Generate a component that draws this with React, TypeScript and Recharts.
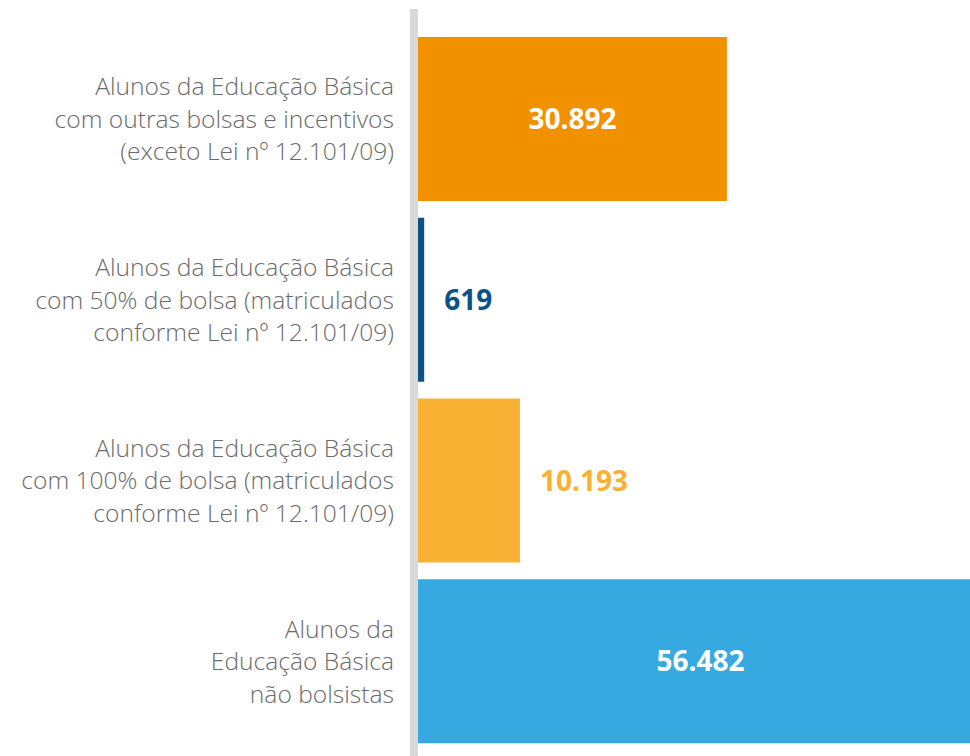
import React from "react";
import { BarChart, Bar, XAxis, YAxis, Cell, LabelList } from "recharts";

const categories = [
  "Alunos da Educação Básica com outras bolsas e incentivos (exceto Lei nº 12.101/09)",
  "Alunos da Educação Básica com 50% de bolsa (matriculados conforme Lei nº 12.101/09)",
  "Alunos da Educação Básica com 100% de bolsa (matriculados conforme Lei nº 12.101/09)",
  "Alunos da Educação Básica não bolsistas",
];

const categoryLines = [
  ["Alunos da Educação Básica", "com outras bolsas e incentivos", "(exceto Lei nº 12.101/09)"],
  ["Alunos da Educação Básica", "com 50% de bolsa (matriculados", "conforme Lei nº 12.101/09)"],
  ["Alunos da Educação Básica", "com 100% de bolsa (matriculados", "conforme Lei nº 12.101/09)"],
  ["Alunos da", "Educação Básica", "não bolsistas"],
];

const values = [30892, 619, 10193, 56482];
const valueLabels = ["30.892", "619", "10.193", "56.482"];
const barColors = ["#f29100", "#0b5288", "#f8b133", "#36a9e0"];
const labelInside = [true, false, false, true];

const data = categories.map((name, i) => ({ name, value: values[i], idx: i }));

const LABEL_FONT = "'Open Sans', 'Noto Sans', sans-serif";

const CategoryTick = (props: any) => {
  const { y, payload } = props;
  const idx = categories.indexOf(payload.value);
  const lines = categoryLines[idx] || [];
  const lh = 32.5;
  return (
    <text
      x={394}
      y={y}
      textAnchor="end"
      fill="#6b6b6b"
      fontFamily={LABEL_FONT}
      fontWeight={300}
      fontSize={24.6}
    >
      {lines.map((l, i) => (
        <tspan key={i} x={394} y={y + (i - (lines.length - 1) / 2) * lh + 8.5}>
          {l}
        </tspan>
      ))}
    </text>
  );
};

const ValueLabel = (props: any) => {
  const { x, y, width, height, index } = props;
  const i = index as number;
  const inside = labelInside[i];
  const cx = inside ? x + width / 2 : x + width + 20;
  return (
    <text
      x={cx}
      y={y + height / 2 + 10}
      textAnchor={inside ? "middle" : "start"}
      fill={inside ? "#ffffff" : barColors[i]}
      fontFamily={LABEL_FONT}
      fontWeight={700}
      fontSize={28}
    >
      {valueLabels[i]}
    </text>
  );
};

export default function App() {
  return (
    <div
      style={{
        position: "absolute",
        left: 0,
        top: 0,
        width: 970,
        height: 756,
        overflow: "hidden",
        background: "#ffffff",
      }}
    >
      <BarChart
        layout="vertical"
        width={1018}
        height={790}
        data={data}
        margin={{ top: 9, right: 0, bottom: 0, left: 0 }}
      >
        <XAxis type="number" domain={[-400, 60000]} hide allowDataOverflow />
        <YAxis
          type="category"
          dataKey="name"
          width={414}
          axisLine={{ stroke: "#d9d9d9", strokeWidth: 8 }}
          tickLine={false}
          tick={<CategoryTick />}
          padding={{ top: 20, bottom: 38 }}
          interval={0}
        />
        <Bar dataKey="value" barSize={164} isAnimationActive={false}>
          {data.map((d, i) => (
            <Cell key={i} fill={barColors[i]} />
          ))}
          <LabelList dataKey="value" content={<ValueLabel />} />
        </Bar>
      </BarChart>
    </div>
  );
}
